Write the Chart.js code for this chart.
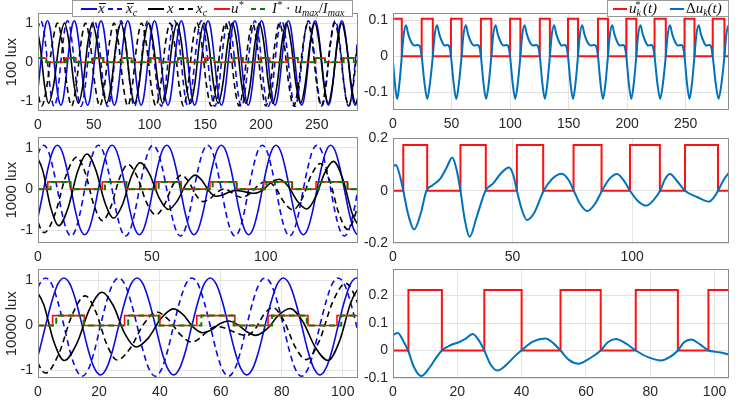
<!DOCTYPE html>
<html><head><meta charset="utf-8">
<script src="https://cdn.jsdelivr.net/npm/chart.js@4.4.0/dist/chart.umd.min.js"></script>
<style>
body{margin:0;background:#fff;width:737px;height:402px;position:relative;overflow:hidden;font-family:"Liberation Sans",Arial,sans-serif}
canvas{position:absolute}
.lg{position:absolute;background:#fff;border:1px solid #9a9a9a;z-index:10;box-sizing:border-box}
.lg svg{position:absolute}
.m{position:absolute;top:-2px;font-family:"Liberation Serif","Times New Roman",serif;font-style:italic;font-size:15px;line-height:18px;color:#111;white-space:nowrap}
.m sub{font-size:10px;vertical-align:-3px;line-height:0}
.m sup{font-size:10px;vertical-align:5px;line-height:0}
.ov{position:relative;display:inline-block}
.ov i{position:absolute;left:1px;top:4px;width:7px;border-top:1px solid #111}
.up{font-style:normal}
</style></head><body>
<canvas id="L1" width="362" height="135" style="left:0;top:0"></canvas>
<canvas id="R1" width="378" height="134" style="left:355px;top:0"></canvas>
<canvas id="L2" width="362" height="143" style="left:0;top:124px"></canvas>
<canvas id="R2" width="378" height="142" style="left:355px;top:125px"></canvas>
<canvas id="L3" width="362" height="146" style="left:0;top:256px"></canvas>
<canvas id="R3" width="378" height="146" style="left:355px;top:256px"></canvas>

<div class="lg" style="left:72px;top:0;width:281px;height:17px">
  <svg style="left:8px;top:6px" width="16" height="4"><line x1="0" y1="2" x2="16" y2="2" stroke="#0a0ae6" stroke-width="2"/></svg>
  <span class="m" style="left:25px"><span class="ov">x<i></i></span></span>
  <svg style="left:35px;top:6px" width="16" height="4"><line x1="0" y1="2" x2="16" y2="2" stroke="#0a0ae6" stroke-width="2" stroke-dasharray="5 4"/></svg>
  <span class="m" style="left:53px"><span class="ov">x<i></i></span><sub>c</sub></span>
  <svg style="left:75px;top:6px" width="16" height="4"><line x1="0" y1="2" x2="16" y2="2" stroke="#000" stroke-width="2"/></svg>
  <span class="m" style="left:94px">x</span>
  <svg style="left:106px;top:6px" width="16" height="4"><line x1="0" y1="2" x2="16" y2="2" stroke="#000" stroke-width="2" stroke-dasharray="5 4"/></svg>
  <span class="m" style="left:123px">x<sub>c</sub></span>
  <svg style="left:141px;top:6px" width="16" height="4"><line x1="0" y1="2" x2="16" y2="2" stroke="#ff1010" stroke-width="2"/></svg>
  <span class="m" style="left:158px">u<sup>*</sup></span>
  <svg style="left:178px;top:6px" width="16" height="4"><line x1="0" y1="2" x2="16" y2="2" stroke="#008000" stroke-width="2" stroke-dasharray="5 4"/></svg>
  <span class="m" style="left:199px">I<sup>*</sup><span class="up"> · </span>u<sub>max</sub><span class="up">/</span>I<sub>max</sub></span>
</div>
<div class="lg" style="left:607px;top:0;width:122px;height:17px">
  <svg style="left:5px;top:6px" width="14" height="4"><line x1="0" y1="2" x2="14" y2="2" stroke="#ff1010" stroke-width="2"/></svg>
  <span class="m" style="left:21px">u<sub>k</sub><sup style="margin-left:-6px">*</sup><span style="margin-left:3px">(t)</span></span>
  <svg style="left:62px;top:6px" width="14" height="4"><line x1="0" y1="2" x2="14" y2="2" stroke="#0072bd" stroke-width="2"/></svg>
  <span class="m" style="left:78px"><span class="up">Δ</span>u<sub>k</sub>(t)</span>
</div>

<script>
// ---------- reference oscillator (shared by all rows) ----------
const REF_T = [0,
0.5,2.5,4.5,6.5,8.5,10.5,12.5,14.5,16.5,18.5,20.5,22.5,
24.5,26.5,28.5,30.5,32.5,34.5,36.5,38.5,40.5,42.5,44.5,46.5,
48.5,50.5,52.5,54.5,56.5,58.5,60.5,62.5,64.5,66.5,68.5,70.5,
72.5,74.5,76.5,78.5,80.5,82.5,84.5,86.5,88.5,90.5,92.5,94.5,
96.5,98.5,100.5,102.5,104.5,106.5,108.5,110.5,112.5,114.5,116.5,118.5,
120.5,122.5,124.5,126.5,128.5,130.5,132.5,134.5,136.5,138.5,140.5,142.5,
144.5,146.5,148.5,150.5,152.5,154.5,156.5,158.5,160.5,162.5,164.5,166.5,
168.5,170.5,172.5,174.5,176.5,178.5,180.5,182.5,184.5,186.5,188.5,190.5,
192.5,194.5,196.5,198.5,200.5,202.5,204.5,206.5,208.5,210.5,212.5,214.5,
216.5,218.5,220.5,222.5,224.5,226.5,228.5,230.5,232.5,234.5,236.5,238.5,
240.5,242.5,244.5,246.5,248.5,250.5,252.5,254.5,256.5,258.5,260.5,262.5,
264.5,266.5,268.5,270.5,272.5,274.5,276.5,278.5,280.5,282.5,284.5,286.5,
288];
const REF_XBAR = [-0.67,
-0.55,0,0.53,0.92,1.06,0.92,0.53,0,-0.55,-0.95,-1.1,-0.95,
-0.55,0,0.53,0.92,1.06,0.92,0.53,0,-0.55,-0.95,-1.1,-0.95,
-0.55,0,0.53,0.92,1.06,0.92,0.53,0,-0.55,-0.95,-1.1,-0.95,
-0.55,0,0.53,0.92,1.06,0.92,0.53,0,-0.55,-0.95,-1.1,-0.95,
-0.55,0,0.53,0.92,1.06,0.92,0.53,0,-0.55,-0.95,-1.1,-0.95,
-0.55,0,0.53,0.92,1.06,0.92,0.53,0,-0.55,-0.95,-1.1,-0.95,
-0.55,0,0.53,0.92,1.06,0.92,0.53,0,-0.55,-0.95,-1.1,-0.95,
-0.55,0,0.53,0.92,1.06,0.92,0.53,0,-0.55,-0.95,-1.1,-0.95,
-0.55,0,0.53,0.92,1.06,0.92,0.53,0,-0.55,-0.95,-1.1,-0.95,
-0.55,0,0.53,0.92,1.06,0.92,0.53,0,-0.55,-0.95,-1.1,-0.95,
-0.55,0,0.53,0.92,1.06,0.92,0.53,0,-0.55,-0.95,-1.1,-0.95,
-0.55,0,0.53,0.92,1.06,0.92,0.53,0,-0.55,-0.95,-1.1,-0.95,
-0.67];
const REF_XBARC = [0.84,
0.92,1.06,0.92,0.53,0,-0.57,-0.98,-1.13,-0.98,-0.57,0,0.53,
0.92,1.06,0.92,0.53,0,-0.57,-0.98,-1.13,-0.98,-0.57,0,0.53,
0.92,1.06,0.92,0.53,0,-0.57,-0.98,-1.13,-0.98,-0.57,0,0.53,
0.92,1.06,0.92,0.53,0,-0.57,-0.98,-1.13,-0.98,-0.57,0,0.53,
0.92,1.06,0.92,0.53,0,-0.57,-0.98,-1.13,-0.98,-0.57,0,0.53,
0.92,1.06,0.92,0.53,0,-0.57,-0.98,-1.13,-0.98,-0.57,0,0.53,
0.92,1.06,0.92,0.53,0,-0.57,-0.98,-1.13,-0.98,-0.57,0,0.53,
0.92,1.06,0.92,0.53,0,-0.57,-0.98,-1.13,-0.98,-0.57,0,0.53,
0.92,1.06,0.92,0.53,0,-0.57,-0.98,-1.13,-0.98,-0.57,0,0.53,
0.92,1.06,0.92,0.53,0,-0.57,-0.98,-1.13,-0.98,-0.57,0,0.53,
0.92,1.06,0.92,0.53,0,-0.57,-0.98,-1.13,-0.98,-0.57,0,0.53,
0.92,1.06,0.92,0.53,0,-0.57,-0.98,-1.13,-0.98,-0.57,0,0.53,
0.84];

// ---------- 100 lux ----------
const R1_X_T = [-2,1.83,5.67, 9.5,14.27,19.03, 23.8,27.97,32.13, 36.3,40.47,44.63, 48.8,53.07,57.33,
61.6,65.87,70.13, 74.4,78.5,82.6, 86.7,90.83,94.97, 99.1,103.37,107.63, 111.9,116.17,120.43,
124.7,128.7,132.7, 136.7,140.73,144.77, 148.8,153.07,157.33, 161.6,165.87,170.13, 174.4,178.43,182.47,
186.5,190.53,194.57, 198.6,202.6,206.6, 210.6,214.63,218.67, 222.7,226.97,231.23, 235.5,239.77,244.03,
248.3,252.3,256.3, 260.3,264.33,268.37, 272.4,276.57,280.73, 284.9,288.93,292.97, 297];
const R1_X_V = [0.95,0.45,-0.55, -1.05,-0.54,0.49, 1,0.49,-0.54, -1.05,-0.54,0.49, 1,0.49,-0.54,
-1.05,-0.54,0.49, 1,0.49,-0.54, -1.05,-0.54,0.49, 1,0.49,-0.54, -1.05,-0.54,0.49,
1,0.49,-0.54, -1.05,-0.54,0.49, 1,0.49,-0.54, -1.05,-0.54,0.49, 1,0.49,-0.54,
-1.05,-0.54,0.49, 1,0.49,-0.54, -1.05,-0.54,0.49, 1,0.49,-0.54, -1.05,-0.54,0.49,
1,0.49,-0.54, -1.05,-0.54,0.49, 1,0.49,-0.54, -1.05,-0.54,0.49, 1];
const R1_XC_T = [-9,-4.9,-0.8, 3.3,8.07,12.83, 17.6,21.77,25.93, 30.1,34.27,38.43, 42.6,46.87,51.13,
55.4,59.67,63.93, 68.2,72.3,76.4, 80.5,84.63,88.77, 92.9,97.17,101.43, 105.7,109.97,114.23,
118.5,122.5,126.5, 130.5,134.53,138.57, 142.6,146.87,151.13, 155.4,159.67,163.93, 168.2,172.23,176.27,
180.3,184.33,188.37, 192.4,196.4,200.4, 204.4,208.43,212.47, 216.5,220.77,225.03, 229.3,233.57,237.83,
242.1,246.1,250.1, 254.1,258.13,262.17, 266.2,270.37,274.53, 278.7,282.73,286.77, 290.8];
const R1_XC_V = [0.9,0.4,-0.62, -1.12,-0.59,0.47, 1,0.47,-0.59, -1.12,-0.59,0.47, 1,0.47,-0.59,
-1.12,-0.59,0.47, 1,0.47,-0.59, -1.12,-0.59,0.47, 1,0.47,-0.59, -1.12,-0.59,0.47,
1,0.47,-0.59, -1.12,-0.59,0.47, 1,0.47,-0.59, -1.12,-0.59,0.47, 1,0.47,-0.59,
-1.12,-0.59,0.47, 1,0.47,-0.59, -1.12,-0.59,0.47, 1,0.47,-0.59, -1.12,-0.59,0.47,
1,0.47,-0.59, -1.12,-0.59,0.47, 1,0.47,-0.59, -1.12,-0.59,0.47, 1];
const R1_U_T = [0,7.5,24.5,34,49.5,58.6,75.1,84,100,108.8,125.4,134,149.5,158,175.1,183.6,199.3,207.8,223.4,233,249,257.5,273.1,283.1,288];
const R1_U_V = [0.105,0,0.105,0,0.105,0,0.105,0,0.105,0,0.105,0,0.105,0,0.105,0,0.105,0,0.105,0,0.105,0,0.105,0,0];
const R1_I_T = [0,7.5,25.5,34,50.5,58.6,76.1,84,101,108.8,126.4,134,150.5,158,176.1,183.6,200.3,207.8,224.4,233,250,257.5,274.1,283.1,288];
const R1_I_V = [0.105,0,0.105,0,0.105,0,0.105,0,0.105,0,0.105,0,0.105,0,0.105,0,0.105,0,0.105,0,0.105,0,0.105,0,0];
const DU1_T = [-0.4,1.6,3.55,5.5,7.5,9.1,11.1,13,15.5,18.5,21.4,23.3,
24.5,26.9,29.25,31.6,34,35.6,37.6,39.5,42,44.1,46.7,48.3,
49.5,51.8,54.05,56.3,58.6,60.2,62.2,64.1,66.6,69.3,72.1,73.9,
75.1,77.3,79.55,81.8,84,85.6,87.6,89.5,92,94.4,97.1,98.8,
100,102.2,104.4,106.6,108.8,110.4,112.4,114.3,116.8,119.6,122.4,124.2,
125.4,127.55,129.7,131.85,134,135.6,137.6,139.5,142,144.1,146.7,148.3,
149.5,151.6,153.75,155.9,158,159.6,161.6,163.5,166,169.1,172,173.9,
175.1,177.2,179.35,181.5,183.6,185.2,187.2,189.1,191.6,193.8,196.5,198.1,
199.3,201.4,203.55,205.7,207.8,209.4,211.4,213.3,215.8,217.9,220.6,222.2,
223.4,225.8,228.2,230.6,233,234.6,236.6,238.5,241,243.4,246.1,247.8,
249,251.1,253.25,255.4,257.5,259.1,261.1,263,265.5,267.6,270.3,271.9,
273.1,275.6,278.1,280.6,283.1,284.7,286.7,288.6,291.1];
const DU1_V = [0,-0.075,-0.119,-0.075,0,0.06,0.087,0.062,0.04,0.03,0.032,0.025,
0,-0.075,-0.119,-0.075,0,0.06,0.087,0.062,0.04,0.03,0.032,0.025,
0,-0.075,-0.119,-0.075,0,0.06,0.087,0.062,0.04,0.03,0.032,0.025,
0,-0.075,-0.119,-0.075,0,0.06,0.087,0.062,0.04,0.03,0.032,0.025,
0,-0.075,-0.119,-0.075,0,0.06,0.087,0.062,0.04,0.03,0.032,0.025,
0,-0.075,-0.119,-0.075,0,0.06,0.087,0.062,0.04,0.03,0.032,0.025,
0,-0.075,-0.119,-0.075,0,0.06,0.087,0.062,0.04,0.03,0.032,0.025,
0,-0.075,-0.119,-0.075,0,0.06,0.087,0.062,0.04,0.03,0.032,0.025,
0,-0.075,-0.119,-0.075,0,0.06,0.087,0.062,0.04,0.03,0.032,0.025,
0,-0.075,-0.119,-0.075,0,0.06,0.087,0.062,0.04,0.03,0.032,0.025,
0,-0.075,-0.119,-0.075,0,0.06,0.087,0.062,0.04,0.03,0.032,0.025,
0,-0.075,-0.119,-0.075,0,0.06,0.087,0.062,0.04];

// ---------- 1000 lux ----------
const R2_X_T = [-1.5,2.03,5.57, 9.1,13.23,17.37, 21.5,25.4,29.3, 33.2,37.1,41.0, 44.9,49.03,53.17, 57.3,61.2,65.1,
69,72,75, 78,81,84, 87,89.67,92.33, 95,98.67,102.33, 106,110,114, 118,121.9,125.8, 129.7,133.8,137.9, 142];
const R2_X_V = [0.9,0.46,-0.44, -0.88,-0.45,0.42, 0.85,0.46,-0.31, -0.7,-0.37,0.31, 0.64,0.36,-0.21, -0.49,-0.28,0.13,
0.34,0.21,-0.04, -0.17,-0.14,-0.07, -0.03,-0.05,-0.08, -0.1,-0.02,0.16, 0.24,0.06,-0.3, -0.48,-0.19,0.38, 0.67,0.25,-0.58, -1.0];
const R2_XC_T = [-9,-5.1,-1.2, 2.7,7.47,12.23, 17,20.77,24.53, 28.3,32.03,35.77, 39.5,43.57,47.63, 51.7,55.47,59.23,
63,66.17,69.33, 72.5,75.5,78.5, 81.5,84.17,86.83, 89.5,93.17,96.83, 100.5,104.33,108.17, 112,116,120, 124,128,132, 136,140,144, 148];
const R2_XC_V = [0.85,0.38,-0.58, -1.05,-0.6,0.32, 0.77,0.39,-0.38, -0.76,-0.42,0.26, 0.6,0.3,-0.32, -0.62,-0.38,0.1,
0.34,0.18,-0.14, -0.3,-0.23,-0.08, 0,-0.05,-0.15, -0.2,-0.1,0.1, 0.2,0.03,-0.33, -0.5,-0.22,0.34, 0.62,0.22,-0.57, -0.97,-0.48,0.51, 1.0];
const R2_U_T = [0,4.3,14.3,28.2,38.8,51.8,62.8,75.5,87.2,99.1,111.6,122.1,135.9,141];
const R2_U_V = [0,0.175,0,0.175,0,0.175,0,0.175,0,0.175,0,0.175,0,0];
const R2_I_T = [0,5.5,14.3,29.4,38.8,53,62.8,76.7,87.2,100.3,111.6,123.3,135.9,141];
const R2_I_V = [0,0.175,0,0.175,0,0.175,0,0.175,0,0.175,0,0.175,0,0];
const DU2_T = [0,1.2,2.8,4.3,6.2,8.9,11.5,14,16.4,19.9,22.5,24.8,26.6,28.2,30,32.1,35,38.7,41.9,45,48.5,50.3,51.8,
53.8,56,59,63,66.5,70.6,73.5,75.6,78.2,81.2,84.5,87.4,90.5,93.7,96.8,99.1,102.5,106,109,111.7,113.8,115.9,118.5,122.1,
127.3,132.1,134.5,135.9,138.5,141];
const DU2_V = [0.092,0.098,0.06,0,-0.085,-0.148,-0.09,0,0.02,0.047,0.09,0.127,0.08,0,-0.11,-0.176,-0.1,0,0.028,0.065,0.089,0.06,0,
-0.07,-0.112,-0.085,0,0.045,0.065,0.04,0,-0.05,-0.078,-0.05,0,0.045,0.064,0.035,0,-0.04,-0.057,-0.035,0,0.045,0.064,0.04,0,
-0.025,-0.042,-0.022,0,0.045,0.075];

// ---------- 10000 lux ----------
const R3_X_T = [-1.5,1.87,5.23, 8.6,12.73,16.87, 21,24.73,28.47, 32.2,36.3,40.4, 44.5,47.67,50.83, 54,56.83,59.67,
62.5,65.5,68.5, 71.5,75.23,78.97, 82.7,86.87,91.03, 95.2,98.97,102.73, 106.5];
const R3_X_V = [0.88,0.47,-0.37, -0.78,-0.4,0.36, 0.74,0.44,-0.18, -0.48,-0.27,0.16, 0.37,0.24,-0.03, -0.16,-0.1,0.04,
0.1,0.02,-0.14, -0.22,-0.07,0.23, 0.38,0.09,-0.49, -0.78,-0.34,0.53, 0.97];
const R3_XC_T = [-9,-5.17,-1.33, 2.5,6.83,11.17, 15.5,19,22.5, 26,30.33,34.67, 39,42.83,46.67, 50.5,53.17,55.83,
58.5,61.83,65.17, 68.5,71.33,74.17, 77,80.67,84.33, 88,92.33,96.67, 101,105,109, 113];
const R3_XC_V = [0.7,0.26,-0.62, -1.06,-0.63,0.23, 0.66,0.3,-0.41, -0.77,-0.5,0.03, 0.3,0.13,-0.2, -0.37,-0.28,-0.11,
-0.02,-0.07,-0.17, -0.22,-0.07,0.25, 0.4,0.11,-0.47, -0.76,-0.34,0.52, 0.94,0.48,-0.44, -0.9];
const R3_U_T = [0,4.8,15.2,28.4,40,52.1,64.6,75.5,88.6,98.1,105];
const R3_U_V = [0,0.22,0,0.22,0,0.22,0,0.22,0,0.22,0.22];
const R3_I_T = [0,6,15,29.6,39.6,53.6,64.2,76.8,88.2,99.5,105];
const R3_I_V = [0,0.22,0,0.22,0,0.22,0,0.22,0,0.22,0.22];
const DU3_T = [0,1.5,3.2,4.7,6.5,8.8,11.5,13.5,15.2,18,20.5,22.5,24.8,26.8,28.4,30.3,32.5,35,37.5,39.9,43.5,47.4,50,52.1,
54.8,57.7,61,64.6,66.8,69.3,72.5,75.5,79.5,83.4,86.3,88.6,90.5,92.7,95.5,98.1,100.5,103,105];
const DU3_V = [0.056,0.064,0.035,0,-0.06,-0.093,-0.06,-0.025,0,0.02,0.03,0.042,0.06,0.035,0,-0.05,-0.073,-0.055,-0.025,0,0.032,0.044,0.025,0,
-0.035,-0.048,-0.03,0,0.03,0.042,0.025,0,-0.025,-0.036,-0.022,0,0.03,0.04,0.022,0,-0.005,-0.01,-0.017];

// ---------- drawing ----------
const FONT = '"Liberation Sans", Arial, sans-serif';
const GRID = '#e3e3e3', BOX = '#8c8c8c', TXT = '#262626';
const BLUE = '#0a0ae6', RED = '#ff1010', GREEN = '#008000', DUBLUE = '#0072bd';

const boxPlugin = {id:'boxFrame', afterDraw(chart){
  const a = chart.chartArea, ctx = chart.ctx; ctx.save();
  ctx.strokeStyle = BOX; ctx.lineWidth = 1;
  const l = Math.round(a.left)+0.5, t = Math.round(a.top)+0.5, r = Math.round(a.right)-0.5, b = Math.round(a.bottom)-0.5;
  ctx.strokeRect(l, t, r-l, b-t); ctx.restore();
}};
function pts(T, V){ return T.map((t,i)=>({x:t, y:V[i]})); }
function curve(T, V, color, w, dash){ return {data:pts(T,V), borderColor:color, borderWidth:w, borderDash:dash||[], pointRadius:0, fill:false, tension:0.4, cubicInterpolationMode:'monotone'}; }
function steps(T, V, color, w, dash){ return {data:pts(T,V), borderColor:color, borderWidth:w, borderDash:dash||[], pointRadius:0, fill:false, stepped:true}; }

function make(id, datasets, xmax, xstep, ymin, ymax, ystep, title, xh){
  const yScale = {type:'linear', min:ymin, max:ymax,
    ticks:{stepSize:ystep, includeBounds:false, padding:5, color:TXT, font:{family:FONT, size:14}},
    grid:{color:GRID, drawTicks:false}, border:{display:false},
    afterFit(s){ s.width = 38; }};
  if (title) yScale.title = {display:true, text:title, color:TXT, font:{family:FONT, size:15}, padding:{top:3, bottom:0}};
  new Chart(document.getElementById(id), {
    type:'line', data:{datasets},
    options:{responsive:false, animation:false, events:[],
      layout:{padding:{top:10, right:4, left:0, bottom:0}},
      plugins:{legend:{display:false}, tooltip:{enabled:false}},
      scales:{
        x:{type:'linear', min:0, max:xmax,
           ticks:{stepSize:xstep, includeBounds:false, autoSkip:false, maxRotation:0, padding:6, color:TXT, font:{family:FONT, size:14}},
           grid:{color:GRID, drawTicks:false}, border:{display:false},
           afterFit(s){ s.height = xh; }},
        y:yScale }},
    plugins:[boxPlugin]});
}

function leftSets(XT,XV,XCT,XCV,UT,UV,IT,IV){
  return [
    steps(IT, IV, GREEN, 2, [6,4]),
    steps(UT, UV, RED, 1.6),
    curve(XCT, XCV, '#000', 1.6, [6,4]),
    curve(XT, XV, '#000', 1.6),
    curve(REF_T, REF_XBARC, BLUE, 1.6, [6,4]),
    curve(REF_T, REF_XBAR, BLUE, 1.6)
  ];
}
make('L1', leftSets(R1_X_T,R1_X_V,R1_XC_T,R1_XC_V,R1_U_T,R1_U_V,R1_I_T,R1_I_V), 287, 50, -1.25, 1.25, 1, '100 lux', 24);
make('L2', leftSets(R2_X_T,R2_X_V,R2_XC_T,R2_XC_V,R2_U_T,R2_U_V,R2_I_T,R2_I_V), 140.5, 50, -1.3, 1.25, 1, '1000 lux', 24);
make('L3', leftSets(R3_X_T,R3_X_V,R3_XC_T,R3_XC_V,R3_U_T,R3_U_V,R3_I_T,R3_I_V), 105, 20, -1.17, 1.25, 1, '10000 lux', 24);
make('R1', [curve(DU1_T, DU1_V, DUBLUE, 2), steps(R1_U_T, R1_U_V, RED, 2)], 287, 50, -0.15, 0.12, 0.1, null, 24);
make('R2', [curve(DU2_T, DU2_V, DUBLUE, 2), steps(R2_U_T, R2_U_V, RED, 2)], 140.5, 50, -0.2, 0.2, 0.2, null, 24);
make('R3', [curve(DU3_T, DU3_V, DUBLUE, 2), steps(R3_U_T, R3_U_V, RED, 2)], 104.5, 20, -0.1, 0.295, 0.1, null, 24);
</script>
</body></html>
